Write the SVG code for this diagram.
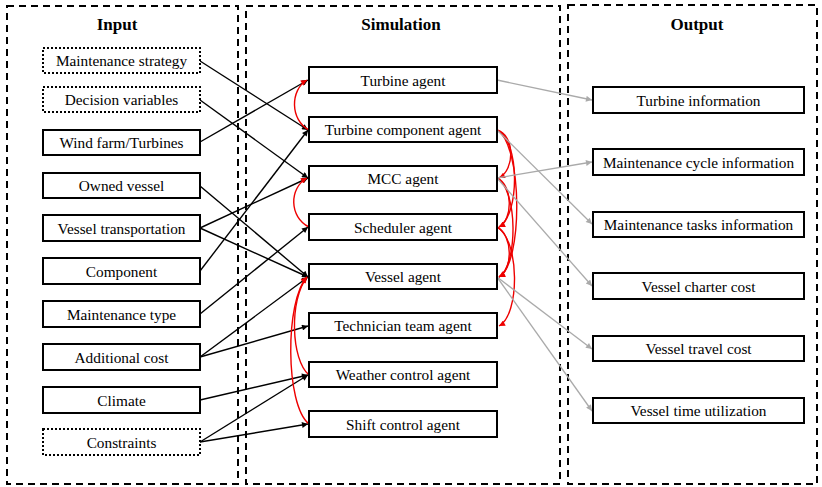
<svg xmlns="http://www.w3.org/2000/svg" width="822" height="487" viewBox="0 0 822 487">
<style>
.cont{fill:none;stroke:#000;stroke-width:2;stroke-dasharray:7,5}
.box{fill:#fff;stroke:#000;stroke-width:2}
.dot{fill:#fff;stroke:#000;stroke-width:2;stroke-dasharray:2,2}
.t{font-family:"Liberation Serif","Times New Roman",serif;font-size:15.3px;text-anchor:middle;fill:#000}
.h{font-family:"Liberation Serif","Times New Roman",serif;font-size:17px;font-weight:bold;text-anchor:middle;fill:#000}
.k{fill:none;stroke:#000;stroke-width:1.4;marker-end:url(#ak)}
.g{fill:none;stroke:#aaa;stroke-width:1.3;marker-end:url(#ag)}
.r{fill:none;stroke:#e00;stroke-width:1.4;marker-end:url(#ar)}
</style>
<defs>
<marker id="ak" viewBox="0 0 10 10" refX="10" refY="5" markerWidth="8" markerHeight="6" markerUnits="userSpaceOnUse" orient="auto"><path d="M0,0 L10,5 L0,10 z" fill="#000"/></marker>
<marker id="ag" viewBox="0 0 10 10" refX="10" refY="5" markerWidth="8" markerHeight="6" markerUnits="userSpaceOnUse" orient="auto"><path d="M0,0 L10,5 L0,10 z" fill="#aaa"/></marker>
<marker id="ar" viewBox="0 0 10 10" refX="10" refY="5" markerWidth="8" markerHeight="6" markerUnits="userSpaceOnUse" orient="auto"><path d="M0,0 L10,5 L0,10 z" fill="#e00"/></marker>
</defs>
<g id="containers">
<rect class="cont" x="7" y="6" width="231" height="478"/>
<rect class="cont" x="246" y="6" width="314" height="478"/>
<rect class="cont" x="568" y="5" width="249" height="479"/>
<text class="h" x="117" y="30">Input</text>
<text class="h" x="401" y="30">Simulation</text>
<text class="h" x="697" y="30">Output</text>
</g>
<g id="connectors">
<path class="k" d="M200,61 L308,130"/>
<path class="k" d="M200,100 L308,178"/>
<path class="k" d="M200,142 L308,80"/>
<path class="k" d="M200,271 L308,130"/>
<path class="k" d="M200,186 L308,277"/>
<path class="k" d="M200,228 L308,178"/>
<path class="k" d="M200,228 L308,277"/>
<path class="k" d="M200,314 L308,227"/>
<path class="k" d="M200,357 L308,277"/>
<path class="k" d="M200,357 L308,326"/>
<path class="k" d="M200,400 L308,375"/>
<path class="k" d="M200,442 L308,375"/>
<path class="k" d="M200,442 L308,424"/>
<path class="r" d="M309,130 C290,120 290,90 307,80"/>
<path class="r" d="M309,227 C289,217 289,188 307,178"/>
<path class="r" d="M309,375 C291,360 289,300 307,277"/>
<path class="r" d="M309,424 C285,405 285,300 307,277"/>
<path class="r" d="M497,130 C515,135 515,170 499,178"/>
<path class="r" d="M497,130 C520,140 520,215 499,227"/>
<path class="r" d="M497,130 C523,145 523,265 499,277"/>
<path class="r" d="M497,178 C513,185 513,220 499,227"/>
<path class="r" d="M497,178 C518,190 518,265 499,277"/>
<path class="r" d="M497,227 C513,235 513,270 499,277"/>
<path class="r" d="M497,227 C520,240 520,315 499,326"/>
<path class="g" d="M497,80 L592,100"/>
<path class="g" d="M497,178 L592,162"/>
<path class="g" d="M497,130 L592,224"/>
<path class="g" d="M497,178 L592,286"/>
<path class="g" d="M497,277 L592,349"/>
<path class="g" d="M497,277 L592,411"/>
</g>
<g id="in-maintenance-strategy"><rect class="dot" x="43" y="48" width="157" height="25"/><text class="t" x="121.5" y="66">Maintenance strategy</text></g>
<g id="in-decision-variables"><rect class="dot" x="43" y="87" width="157" height="25"/><text class="t" x="121.5" y="105">Decision variables</text></g>
<g id="in-wind-farm"><rect class="box" x="43" y="130" width="157" height="25"/><text class="t" x="121.5" y="148">Wind farm/Turbines</text></g>
<g id="in-owned-vessel"><rect class="box" x="43" y="173" width="157" height="25"/><text class="t" x="121.5" y="191">Owned vessel</text></g>
<g id="in-vessel-transportation"><rect class="box" x="43" y="215" width="157" height="26"/><text class="t" x="121.5" y="233.5">Vessel transportation</text></g>
<g id="in-component"><rect class="box" x="43" y="258" width="157" height="26"/><text class="t" x="121.5" y="276.5">Component</text></g>
<g id="in-maintenance-type"><rect class="box" x="43" y="301" width="157" height="26"/><text class="t" x="121.5" y="319.5">Maintenance type</text></g>
<g id="in-additional-cost"><rect class="box" x="43" y="344" width="157" height="26"/><text class="t" x="121.5" y="362.5">Additional cost</text></g>
<g id="in-climate"><rect class="box" x="43" y="387" width="157" height="26"/><text class="t" x="121.5" y="405.5">Climate</text></g>
<g id="in-constraints"><rect class="dot" x="43" y="429" width="157" height="26"/><text class="t" x="121.5" y="447.5">Constraints</text></g>
<g id="ag-turbine"><rect class="box" x="309" y="67" width="188" height="26"/><text class="t" x="403" y="85.5">Turbine agent</text></g>
<g id="ag-turbine-component"><rect class="box" x="309" y="117" width="188" height="25"/><text class="t" x="403" y="135">Turbine component agent</text></g>
<g id="ag-mcc"><rect class="box" x="309" y="166" width="188" height="25"/><text class="t" x="403" y="184">MCC agent</text></g>
<g id="ag-scheduler"><rect class="box" x="309" y="214" width="188" height="26"/><text class="t" x="403" y="232.5">Scheduler agent</text></g>
<g id="ag-vessel"><rect class="box" x="309" y="264" width="188" height="25"/><text class="t" x="403" y="282">Vessel agent</text></g>
<g id="ag-technician"><rect class="box" x="309" y="313" width="188" height="25"/><text class="t" x="403" y="331">Technician team agent</text></g>
<g id="ag-weather"><rect class="box" x="309" y="362" width="188" height="25"/><text class="t" x="403" y="380">Weather control agent</text></g>
<g id="ag-shift"><rect class="box" x="309" y="411" width="188" height="26"/><text class="t" x="403" y="429.5">Shift control agent</text></g>
<g id="out-turbine-info"><rect class="box" x="593" y="87" width="211" height="26"/><text class="t" x="698.5" y="105.5">Turbine information</text></g>
<g id="out-cycle-info"><rect class="box" x="593" y="149" width="211" height="26"/><text class="t" x="698.5" y="167.5">Maintenance cycle information</text></g>
<g id="out-tasks-info"><rect class="box" x="593" y="212" width="211" height="25"/><text class="t" x="698.5" y="230">Maintenance tasks information</text></g>
<g id="out-charter-cost"><rect class="box" x="593" y="273" width="211" height="26"/><text class="t" x="698.5" y="291.5">Vessel charter cost</text></g>
<g id="out-travel-cost"><rect class="box" x="593" y="336" width="211" height="25"/><text class="t" x="698.5" y="354">Vessel travel cost</text></g>
<g id="out-time-util"><rect class="box" x="593" y="398" width="211" height="25"/><text class="t" x="698.5" y="416">Vessel time utilization</text></g>
</svg>
